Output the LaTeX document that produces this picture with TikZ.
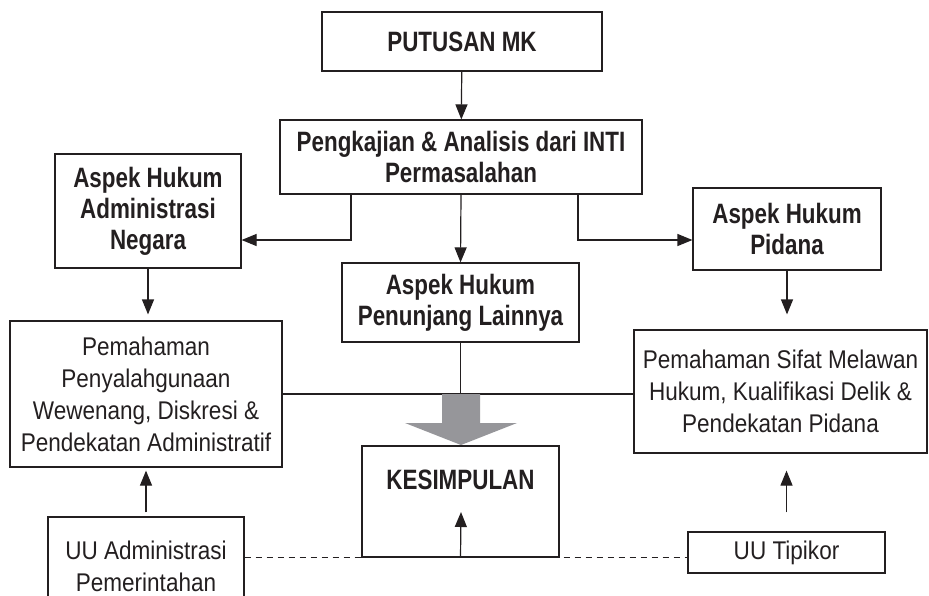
\documentclass[tikz,border=0pt]{standalone}
\usepackage{fontspec}
\newfontfamily\headfont[FakeStretch=0.8]{Liberation Sans}
\newfontfamily\bodyfont[FakeStretch=0.88]{Liberation Sans}
\usetikzlibrary{arrows.meta}
\definecolor{ink}{RGB}{35,31,32}
\definecolor{bigarrow}{RGB}{150,150,154}

\begin{document}
\begin{tikzpicture}[x=0.5pt, y=-0.5pt, >={Triangle[length=7.5pt,width=6pt]},
    box/.style={draw=ink, line width=0.6pt, text=ink, align=center, inner sep=2pt},
    headbox/.style={box, font=\headfont\bfseries\fontsize{14}{15.5}\selectfont},
    textbox/.style={box, font=\bodyfont\fontsize{12.8}{16}\selectfont},
    link/.style={draw=ink, line width=0.6pt}]
    \useasboundingbox (0,0) rectangle (929,595);
    \clip (0,0) rectangle (929,595);
    % ---------------- top: decision and analysis
    \node[headbox, minimum width=140pt, minimum height=29.5pt] (putusan) at (462,41.5) {PUTUSAN MK};
    \node[headbox, minimum width=181pt, minimum height=37pt] (kaji) at (461,157) {Pengkajian \& Analisis dari INTI\\Permasalahan};
    \draw[link, ->] (putusan) -- (kaji);
    % ---------------- three aspects
    \node[headbox, minimum width=93pt, minimum height=57pt] (admin) at (148,211) {Aspek Hukum\\Administrasi\\Negara};
    \node[headbox, minimum width=94pt, minimum height=41pt] (pidana) at (787,229) {Aspek Hukum\\Pidana};
    \node[headbox, minimum width=118.5pt, minimum height=39.5pt] (penunjang) at (460.5,302.5) {Aspek Hukum\\Penunjang Lainnya};
    \draw[link, ->] ([xshift=-55pt]kaji.south) |- ([yshift=-14.5pt]admin.east);
    \draw[link, ->] ([xshift=58.5pt]kaji.south) |- ([yshift=-5.5pt]pidana.west);
    \draw[link, ->] (kaji.south) -- (penunjang.north);
    % ---------------- understanding
    \node[textbox, minimum width=136pt, minimum height=73pt] (pahamadm) at (146,394) {Pemahaman\\Penyalahgunaan\\Wewenang, Diskresi \&\\Pendekatan Administratif};
    \node[textbox, minimum width=146.5pt, minimum height=61.5pt] (pahampid) at (780.5,391.5) {Pemahaman Sifat Melawan\\Hukum, Kualifikasi Delik \&\\Pendekatan Pidana};
    \draw[link, ->, shorten >=3pt] (admin.south) -- (admin.south |- pahamadm.north);
    \draw[link, ->, shorten >=7.5pt] (pidana.south) -- (pidana.south |- pahampid.north);
    \draw[link] (pahamadm.east) -- (pahamadm.east -| pahampid.west);
    \draw[link] (penunjang.south) -- (penunjang.south |- pahamadm.east);
    % ---------------- conclusion
    \node[headbox, minimum width=98.5pt, minimum height=55.5pt, text height=8.5pt, text depth=21pt] (simpulan) at (460.5,501.5) {KESIMPULAN};
    \fill[bigarrow] (442,394) -- (480,394) -- (480,423) -- (517,423) -- (461,445) -- (405,423) -- (442,423) -- cycle;
    \coordinate (inner) at (461,512);
    \draw[link, ->] (simpulan.south) -- (inner);
    % ---------------- laws
    \node[textbox, minimum width=98pt, minimum height=49pt] (uuadm) at (146,566) {UU Administrasi\\Pemerintahan};
    \node[textbox, minimum width=98.5pt, minimum height=20.5pt] (tipikor) at (786.5,552.5) {UU Tipikor};
    \draw[link, ->, shorten <=2pt, shorten >=1.5pt] (uuadm.north) -- (pahamadm.south);
    \draw[link, ->, shorten <=9.5pt, shorten >=8.5pt] (tipikor.north) -- (tipikor.north |- pahampid.south);
    \draw[link, dash pattern=on 3pt off 2.5pt] (simpulan.south -| uuadm.east) -- (simpulan.south -| tipikor.west);
\end{tikzpicture}
\end{document}
